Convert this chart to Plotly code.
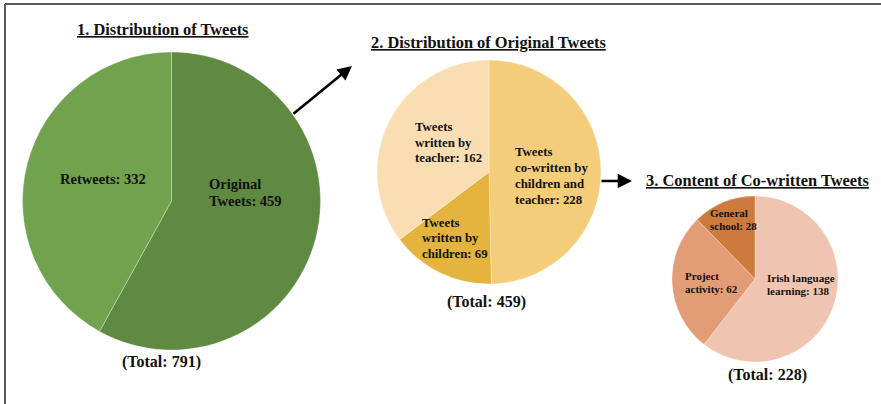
import plotly.graph_objects as go

# ---- data ----
dist_labels = ["Original\nTweets", "Retweets"]
dist_values = [459, 332]

orig_labels = ["Tweets\nco-written by\nchildren and\nteacher", "Tweets\nwritten by\nchildren", "Tweets\nwritten by\nteacher"]
orig_values = [228, 69, 162]

content_labels = ["Irish language\nlearning", "Project\nactivity", "General\nschool"]
content_values = [138, 62, 28]

titles = ["1. Distribution of Tweets", "2. Distribution of Original Tweets", "3. Content of Co-written Tweets"]

W, H = 881, 404
FONT = "Liberation Serif"
TXT = "#111111"

def px(x):
    return x / W

def py(y):
    return 1 - y / H

def dom(cx, cy, r):
    return dict(x=[px(cx - r), px(cx + r)], y=[py(cy + r), py(cy - r)])

colors1 = ["#608a41", "#71a34f"]
colors2 = ["#f4cd7a", "#e4b43f", "#f9deb3"]
colors3 = ["#efc4b0", "#e29d76", "#cd7a3e"]

pies = [
    (dist_labels, dist_values, colors1, (171.5, 201, 149)),
    (orig_labels, orig_values, colors2, (489, 172, 112)),
    (content_labels, content_values, colors3, (755, 279, 83)),
]

fig = go.Figure()
for labels, values, cols, (cx, cy, r) in pies:
    fig.add_trace(go.Pie(
        labels=[l.replace("\n", " ") for l in labels], values=values,
        marker=dict(colors=cols, line=dict(color="rgba(255,255,255,0.3)", width=1)),
        sort=False, direction="clockwise", rotation=0,
        textinfo="none", hoverinfo="label+value", showlegend=False,
        domain=dom(cx, cy, r),
    ))

annotations = []

def add_label(label, value, x, y0, dy, size):
    lines = label.split("\n")
    lines[-1] = f"{lines[-1]}: {value}"
    for i, line in enumerate(lines):
        annotations.append(dict(
            x=px(x), y=py(y0 + i * dy), xref="paper", yref="paper",
            text=f"<b>{line}</b>", showarrow=False, xanchor="left", yanchor="middle",
            font=dict(family=FONT, size=size, color=TXT),
        ))

# label placement (px): left x, first line centre y, line spacing, font size
pos1 = [(207, 184, 17, 14.5), (58, 179, 17, 14.5)]
pos2 = [(513, 152, 16.1, 12.8), (420, 222.7, 15.5, 12.8), (413, 127, 15.7, 12.8)]
pos3 = [(765, 278.3, 12.4, 11), (683, 276, 12.8, 11), (708, 213.3, 12.4, 11)]

for labels, values, pos in [(dist_labels, dist_values, pos1), (orig_labels, orig_values, pos2), (content_labels, content_values, pos3)]:
    for lab, val, (x, y, dy, s) in zip(labels, values, pos):
        add_label(lab, val, x, y, dy, s)

# titles
title_pos = [(162.5, 30), (488, 43), (757, 181)]
for t, (x, y) in zip(titles, title_pos):
    annotations.append(dict(
        x=px(x), y=py(y), xref="paper", yref="paper", text=f"<b><u>{t}</u></b>",
        showarrow=False, xanchor="center", yanchor="middle",
        font=dict(family=FONT, size=16.4, color=TXT),
    ))

# totals
total_pos = [(161.5, 362), (486.5, 302), (767, 375)]
for vals, (x, y) in zip([dist_values, orig_values, content_values], total_pos):
    annotations.append(dict(
        x=px(x), y=py(y), xref="paper", yref="paper", text=f"<b>(Total: {sum(vals)})</b>",
        showarrow=False, xanchor="center", yanchor="middle",
        font=dict(family=FONT, size=16, color=TXT),
    ))

# arrows
for (tx, ty), (ax, ay) in [((352, 66), (-60, 49)), ((632, 181), (-32, 0))]:
    annotations.append(dict(
        x=px(tx), y=py(ty), xref="paper", yref="paper", text="",
        showarrow=True, ax=ax, ay=ay, arrowhead=2, arrowsize=1.1, arrowwidth=2.6,
        arrowcolor="#000000",
    ))

shapes = [
    dict(type="line", xref="paper", yref="paper", x0=px(5), x1=1, y0=py(4), y1=py(4),
         line=dict(color="#5a5a5a", width=2)),
    dict(type="line", xref="paper", yref="paper", x0=px(5), x1=px(5), y0=py(4), y1=0,
         line=dict(color="#5a5a5a", width=2)),
]

fig.update_layout(
    width=W, height=H, autosize=False,
    margin=dict(l=0, r=0, t=0, b=0),
    paper_bgcolor="white", plot_bgcolor="white",
    annotations=annotations, shapes=shapes,
)

fig.write_html(
    "out.html",
    config={"displayModeBar": False},
    post_script="document.body.style.margin='0';document.body.style.overflow='hidden';",
)
